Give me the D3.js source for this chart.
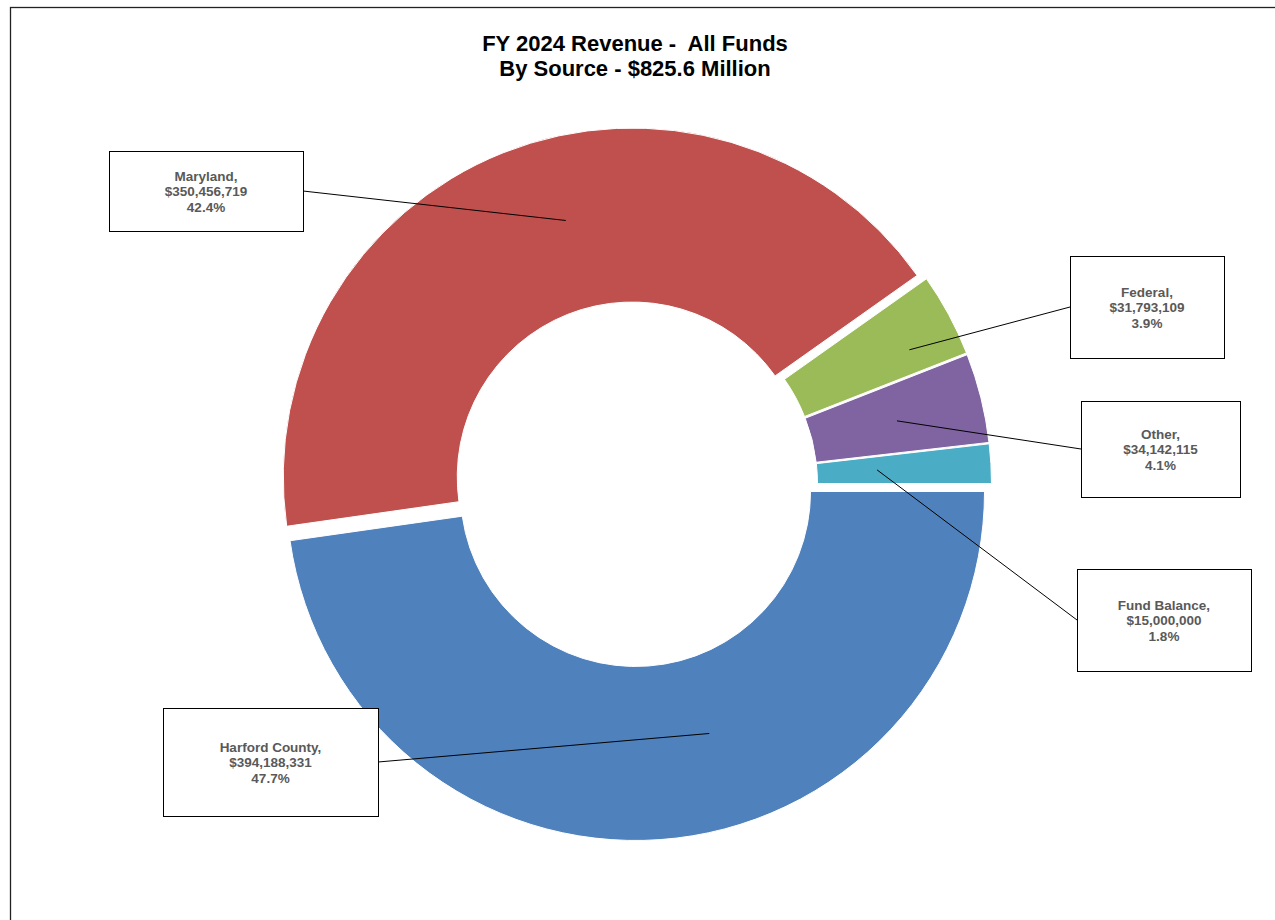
<!DOCTYPE html>
<html>
<head>
<meta charset="utf-8">
<script src="https://cdn.jsdelivr.net/npm/d3@7"></script>
<style>
  body { margin: 0; background: #fff; }
  text { font-family: "Liberation Sans", Arial, sans-serif; }
</style>
</head>
<body>
<div id="chart"></div>
<script>
// Data
var sources = ["Harford County", "Maryland", "Federal", "Other", "Fund Balance"];
var amounts = [394188331, 350456719, 31793109, 34142115, 15000000];
var percents = [0.477, 0.424, 0.039, 0.041, 0.018];
var colors = ["#4F81BD", "#C0504D", "#9BBB59", "#8064A2", "#4BACC6"];

// label box layout: box rect + where the leader line starts in the slice
var labelBoxes = [
  {x: 163, y: 708, w: 215, h: 108, lineSide: "right", frac: 0.425, r: 253},
  {x: 109, y: 151, w: 194, h: 80, lineSide: "right", frac: 0.547, r: 265},
  {x: 1070, y: 256, w: 154, h: 102, lineSide: "left", frac: 0.67, r: 298},
  {x: 1081, y: 401, w: 159, h: 96, lineSide: "left", frac: 0.53, r: 262},
  {x: 1077, y: 569, w: 174, h: 102, lineSide: "left", frac: 0.49, r: 235}
];

var width = 1275, height = 920;
var cx = 635, cy = 484;
var outerR = 349, innerR = 175, explode = 7.5;

var svg = d3.select("#chart")
  .append("svg")
  .attr("width", width)
  .attr("height", height);

svg.append("rect")
  .attr("x", 10.5)
  .attr("y", 7.5)
  .attr("width", 1300)
  .attr("height", 1000)
  .attr("fill", "none")
  .attr("stroke", "#222")
  .attr("stroke-width", 1.3);

// Title
var title = svg.append("text")
  .attr("text-anchor", "middle")
  .style("font-size", "22px")
  .style("font-weight", "bold")
  .attr("fill", "#000");
title.append("tspan").attr("x", 635).attr("y", 51).text("FY 2024 Revenue -\u00a0 All Funds");
title.append("tspan").attr("x", 635).attr("y", 76).text("By Source - $825.6 Million");

var data = sources.map(function(s, i) {
  return {source: s, amount: amounts[i], pct: percents[i], color: colors[i], box: labelBoxes[i]};
});

var pie = d3.pie()
  .sort(null)
  .value(function(d) { return d.amount; })
  .startAngle(Math.PI / 2)
  .endAngle(Math.PI / 2 + 2 * Math.PI);

var arc = d3.arc().innerRadius(innerR).outerRadius(outerR);

var arcs = pie(data);

function offset(d) {
  var mid = (d.startAngle + d.endAngle) / 2;
  return [explode * Math.sin(mid), -explode * Math.cos(mid)];
}

var g = svg.append("g").attr("transform", `translate(${cx}, ${cy})`);

g.selectAll("path.slice")
  .data(arcs)
  .enter().append("path")
  .attr("class", "slice")
  .attr("d", arc)
  .attr("transform", function(d) {
    var o = offset(d);
    return `translate(${o[0]}, ${o[1]})`;
  })
  .attr("fill", function(d) { return d.data.color; })
  .attr("stroke", "#fff")
  .attr("stroke-width", 1);

// Leader lines
g.selectAll("line.leader")
  .data(arcs)
  .enter().append("line")
  .attr("class", "leader")
  .each(function(d) {
    var b = d.data.box;
    var a = d.startAngle + b.frac * (d.endAngle - d.startAngle);
    var o = offset(d);
    var px = o[0] + b.r * Math.sin(a);
    var py = o[1] - b.r * Math.cos(a);
    var ex = (b.lineSide === "right" ? b.x + b.w : b.x) - cx;
    var ey = b.y + b.h / 2 - cy;
    d3.select(this)
      .attr("x1", px).attr("y1", py)
      .attr("x2", ex).attr("y2", ey);
  })
  .attr("stroke", "#000")
  .attr("stroke-width", 1);

// Label boxes
var fmtMoney = d3.format("$,");
var fmtPct = d3.format(".1%");

var labels = svg.selectAll("g.label")
  .data(data)
  .enter().append("g")
  .attr("class", "label");

labels.append("rect")
  .attr("x", function(d) { return d.box.x + 0.5; })
  .attr("y", function(d) { return d.box.y + 0.5; })
  .attr("width", function(d) { return d.box.w; })
  .attr("height", function(d) { return d.box.h; })
  .attr("fill", "#fff")
  .attr("stroke", "#000")
  .attr("stroke-width", 1);

labels.append("text")
  .attr("text-anchor", "middle")
  .style("font-size", "13.5px")
  .style("font-weight", "bold")
  .attr("fill", "#595959")
  .each(function(d) {
    var t = d3.select(this);
    var mx = d.box.x + d.box.w / 2;
    var my = d.box.y + d.box.h / 2;
    var lines = [d.source + ",", fmtMoney(d.amount), fmtPct(d.pct)];
    lines.forEach(function(l, i) {
      t.append("tspan")
        .attr("x", mx)
        .attr("y", my + (i - 1) * 15.5 + 5)
        .text(l);
    });
  });
</script>
</body>
</html>
